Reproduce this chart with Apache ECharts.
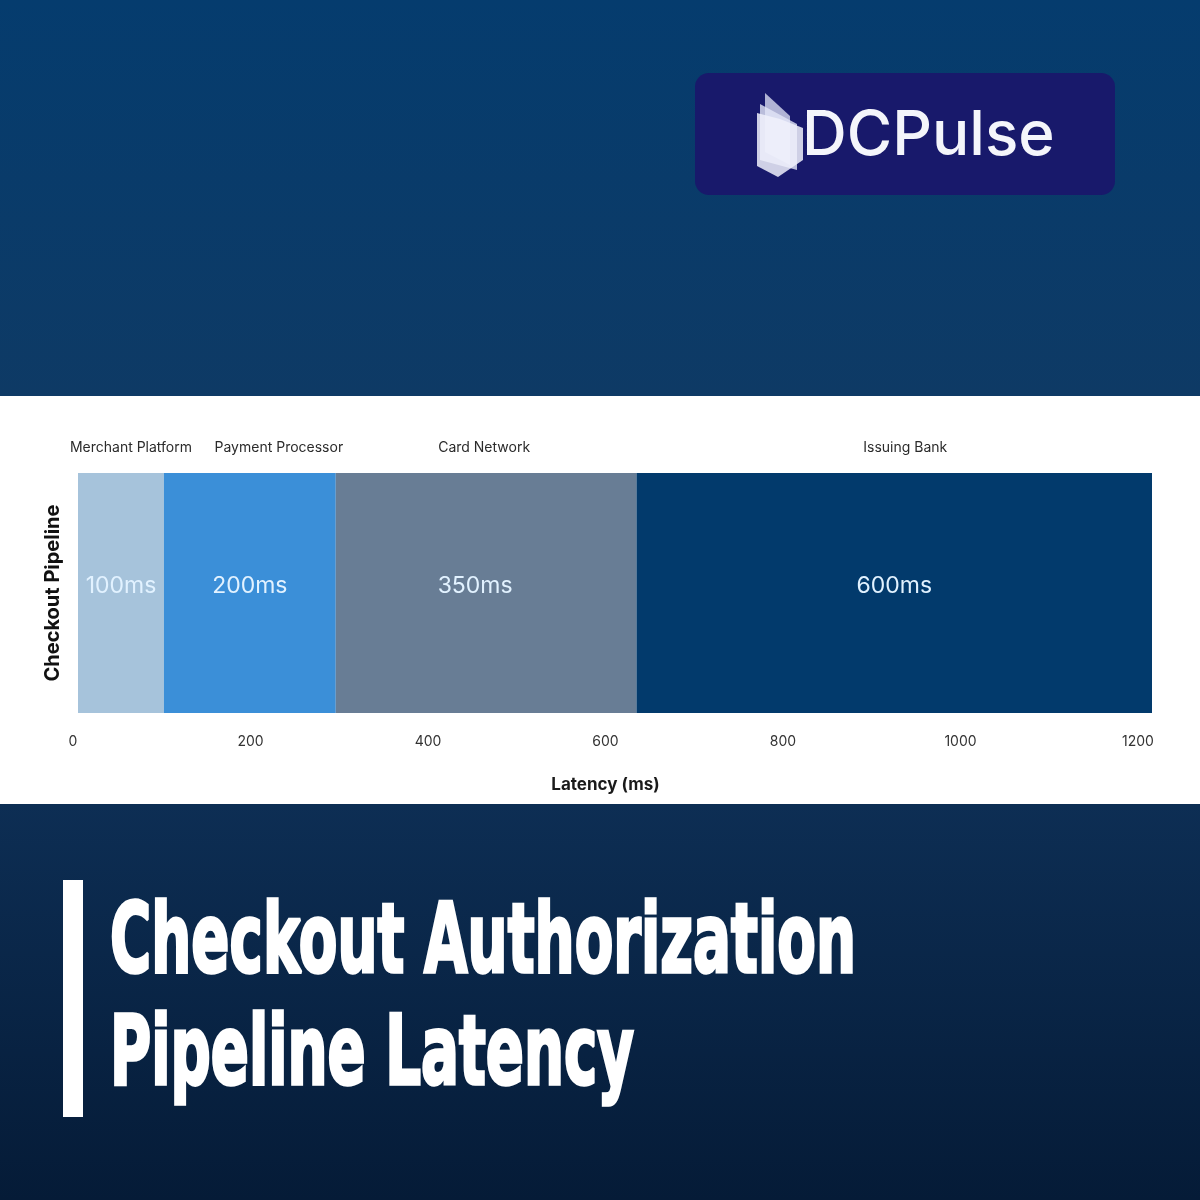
<!DOCTYPE html>
<html>
<head>
<meta charset="utf-8">
<script src="https://cdn.jsdelivr.net/npm/echarts@6/dist/echarts.min.js"></script>
<style>html,body{margin:0;padding:0;background:#0b3560;}#c{width:1200px;height:1200px;}</style>
</head>
<body>
<div id="c"></div>
<script>
// ---- data ----
const stages = ['Merchant Platform', 'Payment Processor', 'Card Network', 'Issuing Bank'];
const latencies = [100, 200, 350, 600];
const pipeline = ['Checkout Pipeline'];
const tickValues = [0, 200, 400, 600, 800, 1000, 1200];
const titleLines = ['Checkout Authorization', 'Pipeline Latency'];

// ---- style ----
const colors = ['#a6c3db', '#3b8fd8', '#687d95', '#023a6c'];
const nameShift = [10, 29, -2, 11];
const valueShift = [0, 0, -11, 0];

const chart = echarts.init(document.getElementById('c'), null, {renderer: 'canvas'});

function fitScale(text, font, target) {
  const ctx = document.createElement('canvas').getContext('2d');
  ctx.font = font;
  return target / ctx.measureText(text).width;
}
const titleFont = 'bold 96px "DejaVu Sans"';
const s1 = fitScale(titleLines[0], titleFont, 746);
const s2 = fitScale(titleLines[1], titleFont, 524);

const starts = [];
latencies.reduce((acc, v, i) => { starts[i] = acc; return acc + v; }, 0);

const barSeries = stages.map((name, i) => ({
  type: 'bar',
  name: name,
  stack: 'total',
  xAxisIndex: 0,
  yAxisIndex: 0,
  barWidth: '100%',
  data: [latencies[i]],
  itemStyle: {color: colors[i]},
  label: {
    show: true,
    position: 'inside',
    offset: [valueShift[i], -7],
    formatter: p => p.value + 'ms',
    color: '#e2f2ff',
    fontSize: 23,
    fontFamily: 'Inter',
    fontWeight: 400
  },
  z: 2
}));

const nameSeries = {
  type: 'custom',
  xAxisIndex: 0,
  yAxisIndex: 0,
  data: stages.map((n, i) => [starts[i], starts[i] + latencies[i], 0, i]),
  renderItem: function (params, api) {
    const a = api.coord([api.value(0), api.value(2)]);
    const b = api.coord([api.value(1), api.value(2)]);
    const h = api.size([0, 1])[1];
    const i = api.value(3);
    return {
      type: 'text',
      style: {
        text: stages[i],
        x: (a[0] + b[0]) / 2 + nameShift[i],
        y: a[1] - h / 2 - 25,
        align: 'center',
        verticalAlign: 'middle',
        fill: '#2b2b2b',
        font: '14px Inter'
      }
    };
  },
  z: 3
};

const titleStyle = (t) => ({text: t, x: 0, y: 0, fill: '#ffffff', font: titleFont,
  verticalAlign: 'middle', stroke: '#ffffff', lineWidth: 3.5, lineJoin: 'round'});

const option = {
  animation: false,
  backgroundColor: '#ffffff',
  graphic: [
    {type: 'rect', z: -10, shape: {x: 0, y: 0, width: 1200, height: 396},
      style: {fill: new echarts.graphic.LinearGradient(0, 0, 0, 1, [
        {offset: 0, color: '#053c6e'}, {offset: 1, color: '#0e3a65'}])}},
    {type: 'rect', z: -10, shape: {x: 0, y: 804, width: 1200, height: 396},
      style: {fill: new echarts.graphic.LinearGradient(0, 0, 0, 1, [
        {offset: 0, color: '#0d2e54'}, {offset: 1, color: '#051b37'}])}},
    // logo box
    {type: 'rect', z: -5, shape: {x: 695, y: 73, width: 420, height: 122, r: 14},
      style: {fill: '#18196b'}},
    {type: 'polygon', z: -4, shape: {points: [[765, 93], [790, 116], [790, 165], [765, 152]]},
      style: {fill: 'rgba(215,218,240,0.8)'}},
    {type: 'polygon', z: -4, shape: {points: [[760, 104], [797, 124], [797, 170], [760, 160]]},
      style: {fill: 'rgba(228,230,248,0.8)'}},
    {type: 'polygon', z: -4, shape: {points: [[757, 113], [780, 119], [803, 128], [803, 160], [778, 177], [757, 166]]},
      style: {fill: 'rgba(240,241,252,0.85)'}},
    {type: 'text', z: -4, style: {text: 'DCPulse', x: 802, y: 136, fill: '#f4f5fb',
      font: '500 62px Inter', verticalAlign: 'middle'}},
    // title block
    {type: 'rect', z: -4, shape: {x: 63, y: 880, width: 20, height: 237}, style: {fill: '#ffffff'}},
    {type: 'text', z: -4, x: 110, y: 947, scaleX: s1, style: titleStyle(titleLines[0])},
    {type: 'text', z: -4, x: 110, y: 1059, scaleX: s2, style: titleStyle(titleLines[1])}
  ],
  grid: [
    {left: 78, top: 473, width: 1074, height: 240},
    {left: 73, top: 473, width: 1065, height: 240}
  ],
  xAxis: [
    {type: 'value', gridIndex: 0, min: 0, max: 1250, show: false},
    {type: 'value', gridIndex: 1, min: 0, max: 1200, interval: 200,
      axisLine: {show: false}, axisTick: {show: false}, splitLine: {show: false},
      axisLabel: {color: '#333333', fontSize: 14, fontFamily: 'Inter', margin: 22,
        formatter: v => tickValues.indexOf(v) >= 0 ? String(v) : ''},
      name: 'Latency (ms)', nameLocation: 'middle', nameGap: 63,
      nameTextStyle: {color: '#1a1a1a', fontSize: 17, fontWeight: 'bold', fontFamily: 'Inter'}}
  ],
  yAxis: [
    {type: 'category', gridIndex: 0, data: pipeline,
      axisLine: {show: false}, axisTick: {show: false}, axisLabel: {show: false},
      name: pipeline[0], nameLocation: 'middle', nameGap: 15,
      nameTextStyle: {color: '#111111', fontSize: 20, fontWeight: 'bold', fontFamily: 'Inter'}},
    {type: 'category', gridIndex: 1, data: pipeline, show: false}
  ],
  series: barSeries.concat([nameSeries])
};
chart.setOption(option);
</script>
</body>
</html>
